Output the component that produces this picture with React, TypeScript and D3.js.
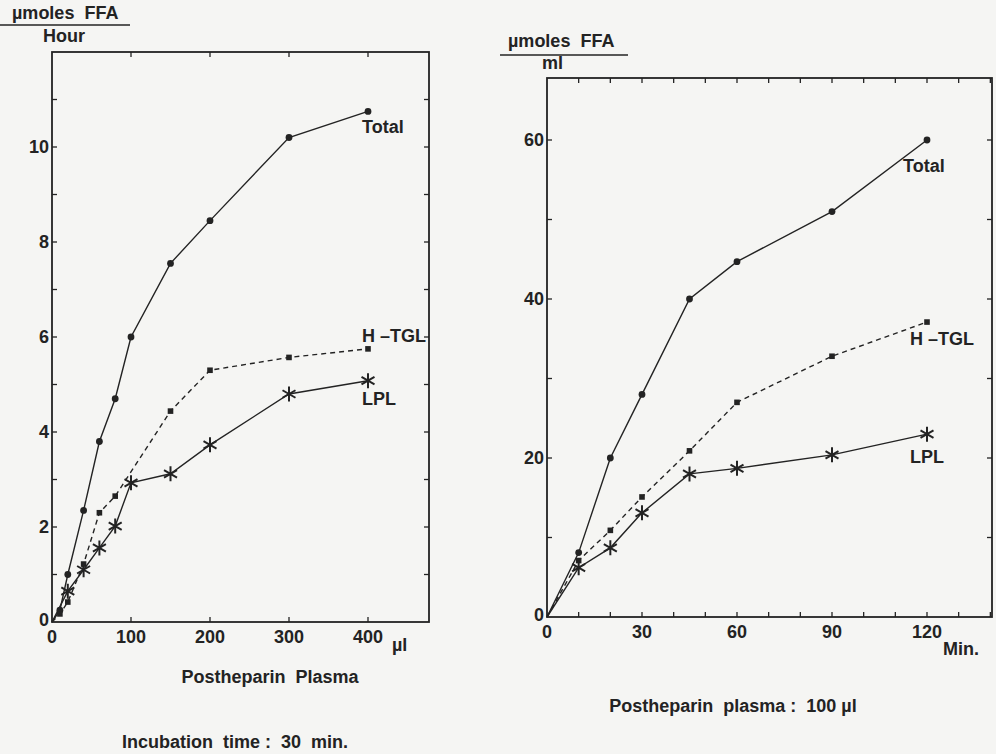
import React, { useEffect, useRef } from 'react';
import * as d3 from 'd3';

// left panel: activity vs. volume of postheparin plasma (µl), 30 min incubation
const doseUl = [0, 10, 20, 40, 60, 80, 100, 150, 200, 300, 400];
const doseTotal = [0, 0.25, 1.0, 2.35, 3.8, 4.7, 6.0, 7.55, 8.45, 10.2, 10.75];
const doseHTGL = [0, 0.17, 0.42, 1.22, 2.3, 2.65, null, 4.44, 5.3, 5.57, 5.75];
const doseLPL = [0, null, 0.65, 1.1, 1.56, 2.02, 2.93, 3.12, 3.73, 4.8, 5.08];

// right panel: time course with 100 µl plasma
const timeMin = [0, 10, 20, 30, 45, 60, 90, 120];
const timeTotal = [0, 8.1, 20, 28, 40, 44.7, 51, 60];
const timeHTGL = [0, 7.1, 10.9, 15.1, 20.9, 27, 32.8, 37.1];
const timeLPL = [0, 6.2, 8.7, 13.1, 18, 18.7, 20.4, 23];

const leftXLabels = [0, 100, 200, 300, 400];
const leftYLabels = [0, 2, 4, 6, 8, 10];
const rightXLabels = [0, 30, 60, 90, 120];
const rightYLabels = [0, 20, 40, 60];

const INK = '#232323';
const FONT = '"Liberation Sans", Arial, Helvetica, sans-serif';

const asteriskPath = (r) => {
  let p = '';
  [90, 30, 150].forEach((deg) => {
    const a = (deg * Math.PI) / 180;
    const dx = r * Math.cos(a);
    const dy = r * Math.sin(a);
    p += `M${-dx},${-dy}L${dx},${dy}`;
  });
  return p;
};

const drawPanel = (svg, cfg) => {
  const { x, y, frame, xs, series, xTickStep, yTickStep, xLabels, yLabels } = cfg;
  const g = svg.append('g');

  // frame
  g.append('rect')
    .attr('x', frame.left)
    .attr('y', frame.top)
    .attr('width', frame.right - frame.left)
    .attr('height', frame.bottom - frame.top)
    .attr('fill', 'none')
    .attr('stroke', INK)
    .attr('stroke-width', 1.8);

  // inward ticks on all four sides
  const xt = d3.range(xTickStep, x.invert(frame.right) - 1e-6, xTickStep);
  const yt = d3.range(yTickStep, y.invert(frame.top) - 1e-6, yTickStep);
  const tk = 5;
  xt.forEach((v) => {
    g.append('line').attr('x1', x(v)).attr('x2', x(v)).attr('y1', frame.bottom).attr('y2', frame.bottom - tk)
      .attr('stroke', INK).attr('stroke-width', 1.3);
    g.append('line').attr('x1', x(v)).attr('x2', x(v)).attr('y1', frame.top).attr('y2', frame.top + tk)
      .attr('stroke', INK).attr('stroke-width', 1.3);
  });
  yt.forEach((v) => {
    g.append('line').attr('x1', frame.left).attr('x2', frame.left + tk).attr('y1', y(v)).attr('y2', y(v))
      .attr('stroke', INK).attr('stroke-width', 1.3);
    g.append('line').attr('x1', frame.right).attr('x2', frame.right - tk).attr('y1', y(v)).attr('y2', y(v))
      .attr('stroke', INK).attr('stroke-width', 1.3);
  });

  // tick labels
  g.selectAll('text.xl')
    .data(xLabels)
    .enter()
    .append('text')
    .attr('x', (d) => x(d))
    .attr('y', frame.bottom + 21)
    .attr('text-anchor', 'middle')
    .text((d) => d);
  g.selectAll('text.yl')
    .data(yLabels)
    .enter()
    .append('text')
    .attr('x', frame.left - 3)
    .attr('y', (d) => y(d) - (d === 0 ? 2 : 0))
    .attr('dy', '0.35em')
    .attr('text-anchor', 'end')
    .text((d) => d);
  g.selectAll('text').style('font-size', '18px');

  // series
  series.forEach((s) => {
    const pts = xs.map((v, i) => [v, s.values[i]]).filter((d) => d[1] != null);
    const line = d3.line().x((d) => x(d[0])).y((d) => y(d[1]));
    g.append('path')
      .attr('d', line(pts))
      .attr('fill', 'none')
      .attr('stroke', INK)
      .attr('stroke-width', 1.4)
      .attr('stroke-dasharray', s.dashed ? '5,4' : null);

    const marks = pts.filter((d) => d[0] > 0);
    if (s.marker === 'circle') {
      g.append('g').selectAll('circle').data(marks).enter().append('circle')
        .attr('cx', (d) => x(d[0])).attr('cy', (d) => y(d[1])).attr('r', 3.4).attr('fill', INK);
    } else if (s.marker === 'square') {
      g.append('g').selectAll('rect').data(marks).enter().append('rect')
        .attr('x', (d) => x(d[0]) - 2.8).attr('y', (d) => y(d[1]) - 2.8)
        .attr('width', 5.6).attr('height', 5.6).attr('fill', INK);
    } else {
      g.append('g').selectAll('path').data(marks).enter().append('path')
        .attr('transform', (d) => `translate(${x(d[0])},${y(d[1])})`)
        .attr('d', asteriskPath(7.5))
        .attr('stroke', INK).attr('stroke-width', 2).attr('fill', 'none');
    }
  });
  return g;
};

const Figure = () => {
  const svgRef = useRef();

  useEffect(() => {
    const svg = d3.select(svgRef.current);
    svg.selectAll('*').remove();
    const width = 996;
    const height = 754;
    svg.attr('width', width).attr('height', height);

    svg.append('rect').attr('width', width).attr('height', height).attr('fill', '#f5f5f3');

    const root = svg.append('g')
      .style('font-family', FONT)
      .style('font-weight', 700)
      .style('fill', INK);

    // ---- left panel
    const lx = d3.scaleLinear().domain([0, 400]).range([52, 368]);
    const ly = d3.scaleLinear().domain([0, 10]).range([622, 147]);
    drawPanel(root, {
      x: lx,
      y: ly,
      frame: { left: lx(0), right: 429, top: 52, bottom: ly(0) },
      xs: doseUl,
      xTickStep: 100,
      yTickStep: 1,
      xLabels: leftXLabels,
      yLabels: leftYLabels,
      series: [
        { values: doseTotal, marker: 'circle', dashed: false },
        { values: doseHTGL, marker: 'square', dashed: true },
        { values: doseLPL, marker: 'asterisk', dashed: false },
      ],
    });

    // ---- right panel
    const rx = d3.scaleLinear().domain([0, 120]).range([547, 927]);
    const ry = d3.scaleLinear().domain([0, 60]).range([617, 140]);
    drawPanel(root, {
      x: rx,
      y: ry,
      frame: { left: rx(0), right: 992, top: 78, bottom: ry(0) },
      xs: timeMin,
      xTickStep: 10,
      yTickStep: 10,
      xLabels: rightXLabels,
      yLabels: rightYLabels,
      series: [
        { values: timeTotal, marker: 'circle', dashed: false },
        { values: timeHTGL, marker: 'square', dashed: true },
        { values: timeLPL, marker: 'asterisk', dashed: false },
      ],
    });

    // ---- annotations
    const text = (t, xx, yy, size = 17, anchor = 'start') =>
      root.append('text')
        .attr('x', xx)
        .attr('y', yy)
        .attr('text-anchor', anchor)
        .style('font-size', `${size}px`)
        .style('white-space', 'pre')
        .text(t);

    // left y-axis unit
    text('µmoles  FFA', 12, 19, 18);
    root.append('line').attr('x1', 0).attr('x2', 130).attr('y1', 25).attr('y2', 25)
      .attr('stroke', INK).attr('stroke-width', 1.5);
    text('Hour', 43, 42, 18);
    text('Total', 362, 133, 18);
    text('H –TGL', 362, 342, 18);
    text('LPL', 362, 405, 18);
    text('µl', 392, 651, 18);
    text('Postheparin  Plasma', 270, 683, 18, 'middle');
    text('Incubation  time :  30  min.', 235, 748, 18, 'middle');

    // right y-axis unit
    text('µmoles  FFA', 508, 47, 18);
    root.append('line').attr('x1', 500).attr('x2', 628).attr('y1', 55).attr('y2', 55)
      .attr('stroke', INK).attr('stroke-width', 1.5);
    text('ml', 542, 69, 18);
    text('Total', 903, 172, 18);
    text('H –TGL', 910, 345, 18);
    text('LPL', 910, 463, 18);
    text('Min.', 943, 655, 18);
    text('Postheparin  plasma :  100 µl', 733, 712, 18, 'middle');
  }, []);

  return <svg ref={svgRef} style={{ position: 'absolute', left: 0, top: 0, display: 'block' }}></svg>;
};

export default function App() {
  return <Figure />;
}
